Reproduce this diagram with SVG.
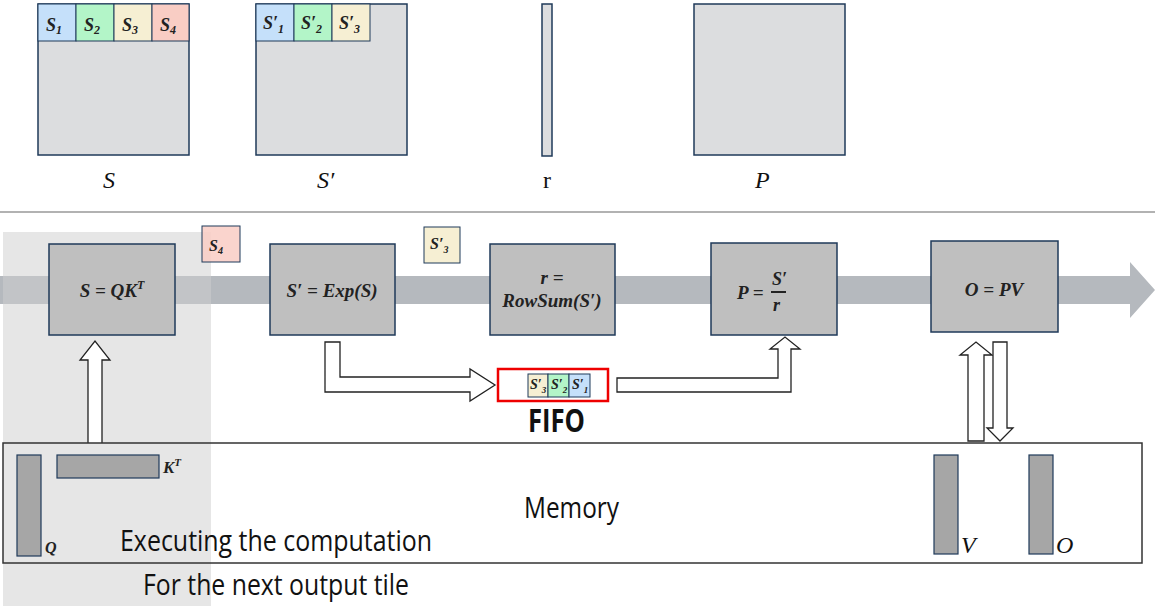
<svg xmlns="http://www.w3.org/2000/svg" width="1155" height="606" viewBox="0 0 1155 606">
<style>
.mat{fill:#dcdddf;stroke:#1f3a5a;stroke-width:1.5}
.box{fill:#bfbfbf;stroke:#1f3a5a;stroke-width:1.5}
.bar{fill:#a6a6a6;stroke:#1f3a5a;stroke-width:1.2}
.m{font-family:"Liberation Serif",serif;font-style:italic;font-weight:bold;fill:#222}
.lbl{font-family:"Liberation Serif",serif;font-style:italic;font-size:24px;fill:#111}
.hol{fill:#fff;stroke:#222;stroke-width:1.3}
.cn{font-family:"Open Sans",sans-serif;fill:#111}
</style>
<g id="top">
<rect class="mat" x="38" y="4" width="151" height="151"/>
<rect x="38" y="4" width="38" height="37" fill="#c5e0fa" stroke="#1f3a5a"/>
<rect x="76" y="4" width="38" height="37" fill="#b3f5c8" stroke="#1f3a5a"/>
<rect x="114" y="4" width="38" height="37" fill="#f6efd3" stroke="#1f3a5a"/>
<rect x="152" y="4" width="37" height="37" fill="#f9cdc4" stroke="#1f3a5a"/>
<text class="m" font-size="18" x="46" y="31">S<tspan font-size="12" dy="3">1</tspan></text>
<text class="m" font-size="18" x="84" y="31">S<tspan font-size="12" dy="3">2</tspan></text>
<text class="m" font-size="18" x="122" y="31">S<tspan font-size="12" dy="3">3</tspan></text>
<text class="m" font-size="18" x="160" y="31">S<tspan font-size="12" dy="3">4</tspan></text>
<text class="lbl" x="103" y="188">S</text>
<rect class="mat" x="256" y="4" width="151" height="151"/>
<rect x="256" y="4" width="38" height="37" fill="#c5e0fa" stroke="#1f3a5a"/>
<rect x="294" y="4" width="38" height="37" fill="#b3f5c8" stroke="#1f3a5a"/>
<rect x="332" y="4" width="38" height="37" fill="#f6efd3" stroke="#1f3a5a"/>
<text class="m" font-size="18" x="263" y="29">S′<tspan font-size="12" dy="4">1</tspan></text>
<text class="m" font-size="18" x="301" y="29">S′<tspan font-size="12" dy="4">2</tspan></text>
<text class="m" font-size="18" x="339" y="29">S′<tspan font-size="12" dy="4">3</tspan></text>
<text class="lbl" x="317" y="188">S′</text>
<rect class="mat" x="542" y="4" width="10" height="152"/>
<text x="547" y="188" text-anchor="middle" font-family="Liberation Serif,serif" font-size="24" fill="#111">r</text>
<rect class="mat" x="694" y="4" width="151" height="151"/>
<text class="lbl" x="755" y="188">P</text>
</g>
<line x1="0" y1="212" x2="1155" y2="212" stroke="#999" stroke-width="1.5"/>
<rect x="3" y="232" width="208" height="374" fill="#e6e6e6"/>
<path d="M0 276 H1130 V262 L1155 290 L1130 318 V304 H0 Z" fill="#b5b9be"/>
<rect x="3" y="276" width="208" height="28" fill="#c2c4c7"/>
<g id="connectors">
<path class="hol" d="M88 443 V360 H80 L95 341 L110 360 H102 V443"/>
<path class="hol" d="M325 342 H340 V377 H470 V369 L495 385 L470 401 V392 H325 Z"/>
<path class="hol" d="M617 378 H778 V349 H770 L785 337 L800 349 H791 V392 H617 Z"/>
<path class="hol" d="M968 441 V355 H960 L976 342 L992 355 H984 V441 Z"/>
<path class="hol" d="M993 342 H1007 V428 H1013 L1000 441 L987 428 H993 Z"/>
</g>
<g id="s4"><rect x="202" y="226" width="38" height="36" fill="#f9cdc4" fill-opacity="0.85" stroke="#1f3a5a"/><text class="m" font-size="16" x="209" y="251">S<tspan font-size="10" dy="3">4</tspan></text></g>
<g id="s3p"><rect x="424" y="227" width="36" height="36" fill="#f6efd3" stroke="#1f3a5a"/><text class="m" font-size="16" x="430" y="249">S′<tspan font-size="10" dy="4">3</tspan></text></g>
<g id="n1"><rect class="box" x="49" y="244" width="126" height="91"/><text class="m" font-size="19" x="112" y="297" text-anchor="middle">S = QK<tspan font-size="12" dy="-8">T</tspan></text></g>
<g id="n2"><rect class="box" x="270" y="244" width="125" height="91"/><text class="m" font-size="19" x="332" y="297" text-anchor="middle">S′ = Exp(S)</text></g>
<g id="n3"><rect class="box" x="490" y="244" width="125" height="91"/><text class="m" font-size="19" x="552" y="284" text-anchor="middle">r =</text><text class="m" font-size="19" x="552" y="307" text-anchor="middle">RowSum(S′)</text></g>
<g id="n4"><rect class="box" x="711" y="243" width="126" height="92"/><text class="m" font-size="19" x="737" y="299">P =</text><text class="m" font-size="18" x="772" y="285">S′</text><line x1="771" y1="292" x2="786" y2="292" stroke="#111" stroke-width="1.8"/><text class="m" font-size="18" x="773" y="311">r</text></g>
<g id="n5"><rect class="box" x="931" y="241" width="127" height="91"/><text class="m" font-size="19" x="994" y="296" text-anchor="middle">O = PV</text></g>
<g id="fifo">
<rect x="498" y="369" width="110" height="32" fill="#fff" stroke="#e00" stroke-width="2.5"/>
<rect x="528" y="374" width="20" height="23" fill="#f6efd3" stroke="#1f3a5a"/>
<rect x="548" y="374" width="21" height="23" fill="#b3f5c8" stroke="#1f3a5a"/>
<rect x="569" y="374" width="21" height="23" fill="#c5e0fa" stroke="#1f3a5a"/>
<text class="m" font-size="14" x="530" y="389">S′<tspan font-size="9" dy="4">3</tspan></text>
<text class="m" font-size="14" x="551" y="389">S′<tspan font-size="9" dy="4">2</tspan></text>
<text class="m" font-size="14" x="572" y="389">S′<tspan font-size="9" dy="4">1</tspan></text>
<text x="528" y="432" font-family="Open Sans,sans-serif" font-weight="bold" font-size="32" textLength="57" lengthAdjust="spacingAndGlyphs" fill="#111">FIFO</text>
</g>
<g id="memory">
<rect x="3" y="443" width="1139" height="120" fill="none" stroke="#333" stroke-width="1.5"/>
<text class="cn" x="524" y="518" font-size="30" textLength="95" lengthAdjust="spacingAndGlyphs">Memory</text>
<rect class="bar" x="17" y="455" width="24" height="101"/><text class="m" font-size="16" x="45" y="553">Q</text>
<rect class="bar" x="57" y="455" width="102" height="23"/><text class="m" font-size="17" x="163" y="473">K<tspan font-size="11" dy="-7">T</tspan></text>
<rect class="bar" x="934" y="455" width="24" height="99"/><text class="lbl" font-size="17" x="961" y="553">V</text>
<rect class="bar" x="1029" y="455" width="24" height="99"/><text class="lbl" font-size="17" x="1056" y="553">O</text>
</g>
<text class="cn" x="120" y="551" font-size="30" textLength="312" lengthAdjust="spacingAndGlyphs">Executing the computation</text>
<text class="cn" x="143" y="595" font-size="30" textLength="266" lengthAdjust="spacingAndGlyphs">For the next output tile</text>
</svg>
